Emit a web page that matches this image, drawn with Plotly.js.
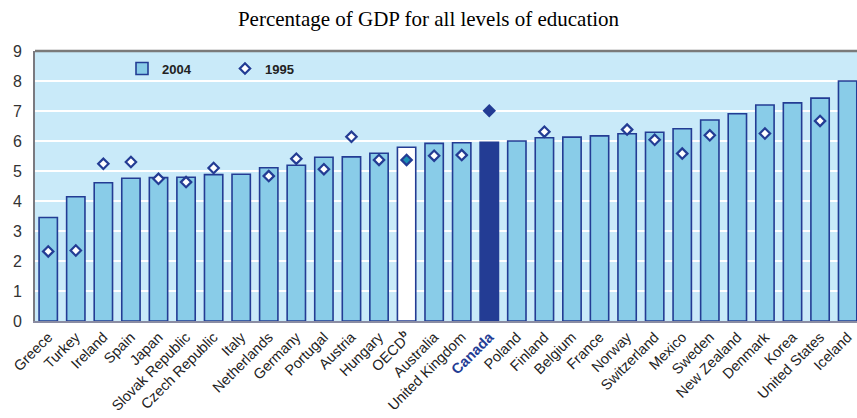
<!DOCTYPE html>
<html>
<head>
<meta charset="utf-8">
<script src="https://cdn.plot.ly/plotly-3.0.1.min.js"></script>
<style>html,body{margin:0;padding:0;background:#fff;}#chart{width:857px;height:418px;}</style>
</head>
<body>
<div id="chart"></div>
<script>
const countries = ["Greece","Turkey","Ireland","Spain","Japan","Slovak Republic","Czech Republic","Italy","Netherlands","Germany","Portugal","Austria","Hungary","OECD","Australia","United Kingdom","Canada","Poland","Finland","Belgium","France","Norway","Switzerland","Mexico","Sweden","New Zealand","Denmark","Korea","United States","Iceland"];
const tickLabels = ["Greece","Turkey","Ireland","Spain","Japan","Slovak Republic","Czech Republic","Italy","Netherlands","Germany","Portugal","Austria","Hungary","OECD<sup><b>b</b></sup>","Australia","United Kingdom","<b><span style=\"color:#233C94\">Canada</span></b>","Poland","Finland","Belgium","France","Norway","Switzerland","Mexico","Sweden","New Zealand","Denmark","Korea","United States","Iceland"];
const values2004 = [3.45,4.14,4.61,4.76,4.78,4.79,4.88,4.89,5.11,5.19,5.46,5.47,5.59,5.79,5.92,5.94,5.96,6.00,6.11,6.13,6.17,6.24,6.29,6.41,6.70,6.91,7.20,7.27,7.43,8.00];
const values1995 = [2.32,2.35,5.24,5.30,4.74,4.63,5.10,null,4.83,5.41,5.06,6.14,5.37,5.37,5.51,5.53,7.01,null,6.31,null,null,6.38,6.04,5.58,6.19,null,6.25,null,6.67,null];

const DARK = "#233C94";
const barFill = countries.map(c => c === "Canada" ? DARK : (c === "OECD" ? "#FFFFFF" : "#89CCE8"));
const dotFill = countries.map(c => c === "Canada" ? DARK : (c === "OECD" ? "#1C8FB5" : "#FFFFFF"));

const traces = [
  {
    type: "bar", name: "2004", x: countries, y: values2004,
    marker: {color: barFill, line: {color: DARK, width: 1.6}},
    width: 0.665, hoverinfo: "skip", legend: "legend"
  },
  {
    type: "scatter", mode: "markers", name: "1995", x: countries, y: values1995,
    marker: {symbol: "diamond", size: 8, color: dotFill, line: {color: DARK, width: 2.2}},
    hoverinfo: "skip", legend: "legend2"
  }
];

const layout = {
  width: 857, height: 418,
  margin: {l: 35, r: 0, t: 51, b: 97},
  paper_bgcolor: "#FFFFFF",
  plot_bgcolor: "#C9EAF9",
  font: {family: "Liberation Sans, Arial, sans-serif", color: "#222222"},
  title: {
    text: "Percentage of GDP for all levels of education",
    font: {family: "Liberation Serif, Times New Roman, serif", size: 21, color: "#000000"},
    xref: "container", x: 0.5, xanchor: "center",
    yref: "container", y: 0.955, yanchor: "middle"
  },
  xaxis: {
    type: "category", range: [-0.48, 29.34],
    tickvals: countries, ticktext: tickLabels,
    tickangle: -45, tickfont: {size: 14.5, color: "#222222"},
    showgrid: false, zeroline: false,
    showline: true, linecolor: "#8A8CA3", linewidth: 2,
    ticks: "", fixedrange: true
  },
  yaxis: {
    range: [0, 9], dtick: 1, tick0: 0,
    tickfont: {size: 16, color: "#333333"},
    ticklabelstandoff: 8,
    showgrid: true, gridcolor: "#FFFFFF", gridwidth: 2.5,
    zeroline: false, showline: true, linecolor: "#7A7A80", linewidth: 2,
    ticks: "", ticklen: 0, fixedrange: true
  },
  shapes: [
    {type: "line", xref: "paper", yref: "paper", x0: 0, x1: 1, y0: 1, y1: 1,
     line: {color: "#7A7A7A", width: 2.5}}
  ],
  showlegend: true,
  legend: {
    orientation: "h", x: (122 - 35) / 822, xanchor: "left", y: 0.935, yanchor: "middle",
    bgcolor: "rgba(0,0,0,0)", font: {size: 13, weight: "bold", color: "#222222"}
  },
  legend2: {
    orientation: "h", x: (225 - 35) / 822, xanchor: "left", y: 0.935, yanchor: "middle",
    bgcolor: "rgba(0,0,0,0)", font: {size: 13, weight: "bold", color: "#222222"}
  },
  bargap: 0.335
};

Plotly.newPlot("chart", traces, layout, {staticPlot: true, displayModeBar: false});
</script>
</body>
</html>
